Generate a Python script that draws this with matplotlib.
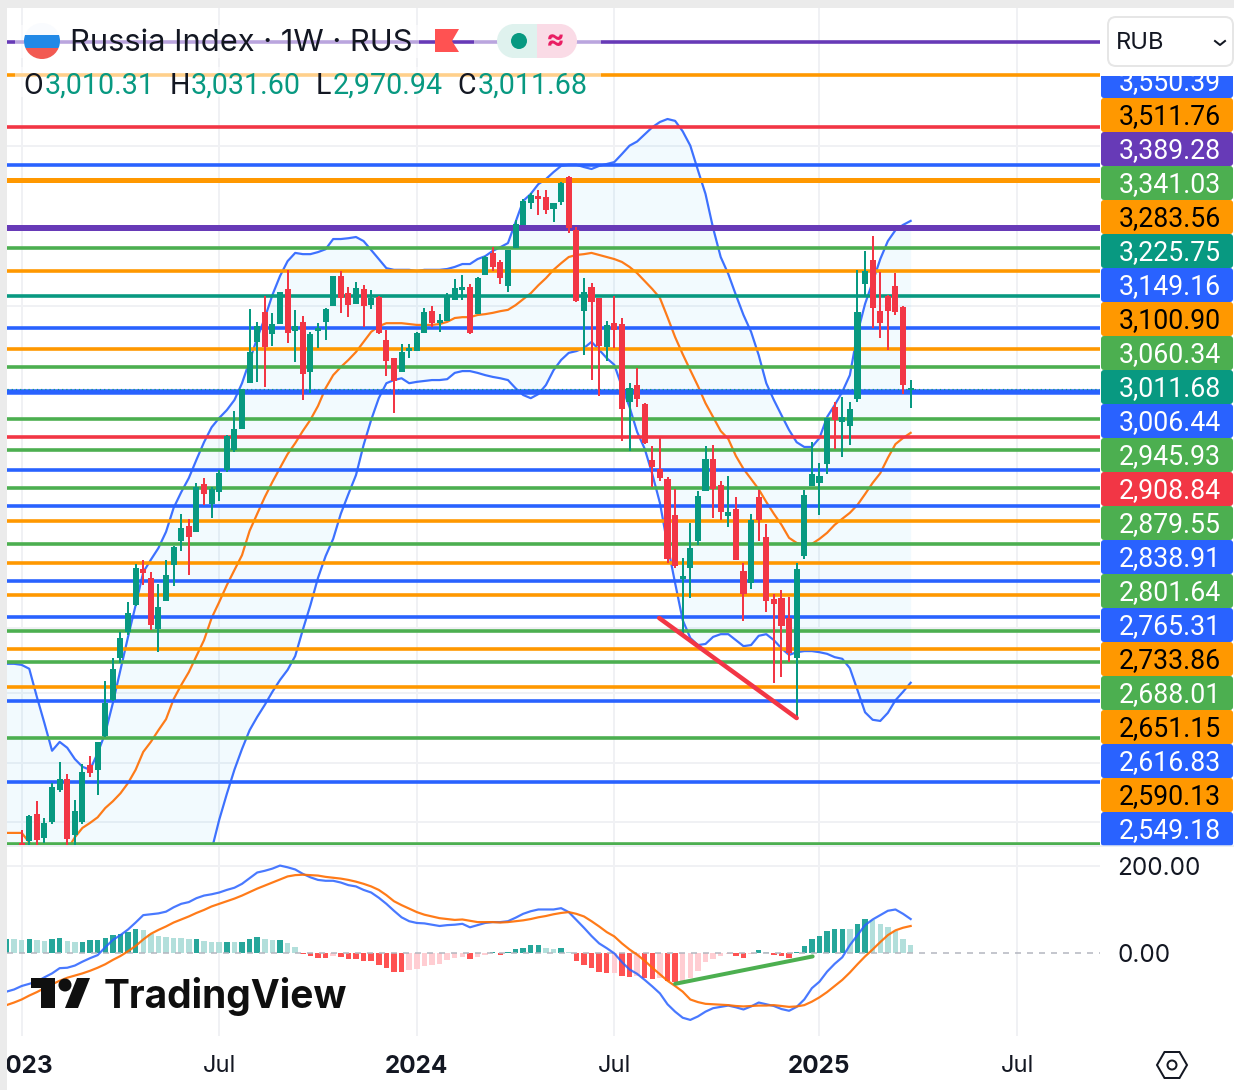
import numpy as np
import matplotlib
matplotlib.use("Agg")
import matplotlib.pyplot as plt
from matplotlib.patches import Rectangle, FancyBboxPatch, Circle, Polygon

plt.rcParams['font.family'] = ['Inter', 'DejaVu Sans']

# weekly candles, first one is the week of 2023-01-02
opens = [2160, 2163, 2206, 2168, 2193, 2245, 2263, 2173, 2193, 2287, 2279, 2336, 2398, 2473, 2521, 2571, 2640, 2623, 2526, 2579,
         2648, 2695, 2725, 2713, 2810, 2769, 2793, 2839, 2880, 2925, 3025, 3118, 3187, 3136, 3159, 3241, 3143, 3164, 3050, 3143,
         3164, 3201, 3272, 3231, 3206, 3241, 3203, 3222, 3122, 3081, 3050, 3097, 3097, 3138, 3189, 3161, 3166, 3215, 3239, 3246,
         3182, 3275, 3328, 3306, 3248, 3340, 3397, 3452, 3470, 3467, 3437, 3454, 3518, 3384, 3189, 3246, 3220, 3106, 3161, 3159,
         2984, 3021, 2979, 2859, 2841, 2820, 2747, 2621, 2642, 2695, 2795, 2862, 2807, 2745, 2759, 2636, 2613, 2783, 2703, 2583,
         2585, 2547, 2473, 2665, 2805, 2812, 2851, 2973, 2940, 2932, 2990, 3253, 3311, 3189, 3224, 3248, 3199, 3010.31]
highs = [2180, 2205, 2227, 2200, 2257, 2292, 2272, 2229, 2289, 2302, 2324, 2432, 2473, 2521, 2577, 2650, 2658, 2634, 2611, 2658,
         2685, 2748, 2739, 2812, 2822, 2804, 2839, 2912, 2964, 3010, 3194, 3164, 3224, 3185, 3234, 3287, 3192, 3178, 3141, 3161,
         3196, 3270, 3284, 3246, 3258, 3250, 3239, 3224, 3145, 3081, 3113, 3113, 3141, 3196, 3201, 3182, 3231, 3265, 3275, 3253,
         3270, 3320, 3342, 3311, 3333, 3409, 3462, 3477, 3485, 3485, 3452, 3505, 3521, 3392, 3267, 3255, 3220, 3166, 3224, 3173,
         3025, 3059, 2981, 2889, 2906, 2824, 2799, 2662, 2730, 2795, 2889, 2891, 2816, 2826, 2783, 2652, 2749, 2797, 2729, 2592,
         2600, 2586, 2652, 2797, 2897, 2853, 2949, 2984, 2995, 2984, 3287, 3333, 3369, 3282, 3227, 3280, 3201, 3031.60]
lows = [2133, 2149, 2154, 2160, 2190, 2242, 2154, 2157, 2190, 2267, 2237, 2334, 2397, 2464, 2515, 2569, 2609, 2525, 2484, 2579,
        2607, 2675, 2628, 2713, 2767, 2741, 2775, 2834, 2876, 2925, 3025, 3028, 3017, 3109, 3159, 3115, 3072, 2988, 3003, 3104,
        3122, 3201, 3185, 3175, 3206, 3152, 3194, 3136, 3041, 2960, 3050, 3081, 3097, 3138, 3152, 3141, 3166, 3215, 3215, 3136,
        3182, 3275, 3284, 3253, 3234, 3340, 3397, 3437, 3422, 3424, 3404, 3447, 3377, 3210, 3088, 3032, 2997, 3075, 3104, 2900,
        2878, 2973, 2893, 2803, 2816, 2652, 2642, 2515, 2585, 2687, 2795, 2741, 2737, 2723, 2660, 2541, 2602, 2695, 2558, 2428,
        2439, 2466, 2367, 2660, 2805, 2747, 2830, 2883, 2866, 2891, 2984, 3222, 3150, 3127, 3100, 3180, 3001, 2970.94]
closes = [2146, 2201, 2166, 2190, 2249, 2262, 2168, 2209, 2274, 2275, 2324, 2391, 2452, 2508, 2554, 2640, 2634, 2536, 2566, 2627,
          2681, 2719, 2705, 2802, 2791, 2797, 2830, 2908, 2923, 3010, 3092, 3152, 3109, 3157, 3231, 3141, 3152, 3048, 3134, 3148,
          3192, 3270, 3222, 3206, 3241, 3203, 3217, 3141, 3077, 3032, 3092, 3102, 3136, 3185, 3164, 3166, 3224, 3241, 3243, 3141,
          3265, 3315, 3296, 3270, 3333, 3397, 3454, 3470, 3465, 3437, 3449, 3500, 3392, 3215, 3231, 3213, 3111, 3154, 3148, 2971,
          3012, 2992, 2897, 2847, 2824, 2662, 2648, 2625, 2679, 2783, 2859, 2801, 2755, 2751, 2660, 2594, 2735, 2739, 2581, 2575,
          2534, 2484, 2638, 2785, 2828, 2824, 2947, 2947, 2949, 2966, 3185, 3282, 3199, 3164, 3192, 3189, 3023, 3011.68]

# bollinger bands and macd start two weeks before the first candle
bb_upper = [2463, 2463, 2461, 2454, 2404, 2358, 2311, 2326, 2316, 2297, 2284, 2279, 2307, 2341, 2393, 2452, 2512, 2571, 2634, 2658,
            2681, 2713, 2761, 2793, 2822, 2860, 2897, 2929, 2949, 2966, 2988, 3025, 3075, 3127, 3173, 3227, 3272, 3308, 3328, 3325,
            3325, 3330, 3337, 3362, 3362, 3364, 3367, 3357, 3335, 3313, 3291, 3287, 3287, 3287, 3284, 3287, 3287, 3287, 3289, 3294,
            3301, 3301, 3313, 3320, 3333, 3342, 3352, 3404, 3457, 3475, 3500, 3513, 3531, 3547, 3550, 3550, 3544, 3539, 3547, 3552,
            3557, 3578, 3600, 3611, 3630, 3649, 3663, 3671, 3666, 3638, 3600, 3536, 3475, 3389, 3318, 3277, 3227, 3180, 3141, 3088,
            3025, 2988, 2955, 2923, 2897, 2887, 2887, 2906, 2951, 2977, 3006, 3043, 3138, 3206, 3258, 3313, 3357, 3384, 3397, 3407]
# the lower band is below the visible range before mid 2023
bb_lower = [np.nan] * 27 + [
    2149, 2197, 2239, 2279, 2314, 2346, 2369, 2390, 2413, 2434, 2452, 2477, 2525, 2571, 2623, 2665, 2699, 2749, 2789, 2828,
    2891, 2945, 2992, 3025, 3032, 3036, 3025, 3028, 3030, 3032, 3032, 3034, 3048, 3052, 3052, 3048, 3043, 3039, 3036, 3032,
    3014, 2999, 2992, 3001, 3021, 3054, 3077, 3093, 3097, 3104, 3118, 3100, 3081, 3066, 3017, 2973, 2919, 2883, 2830, 2771,
    2687, 2613, 2543, 2510, 2497, 2499, 2512, 2517, 2517, 2506, 2495, 2497, 2514, 2517, 2506, 2491, 2479, 2484, 2486, 2486,
    2484, 2481, 2475, 2472, 2455, 2416, 2377, 2364, 2362, 2376, 2398, 2413, 2429]
bb_basis = [2176, 2176, 2176, 2161, 2149, 2141, 2136, 2141, 2149, 2169, 2184, 2192, 2201, 2216, 2227, 2240, 2257, 2279, 2309, 2326,
            2346, 2365, 2400, 2425, 2448, 2477, 2506, 2547, 2577, 2609, 2638, 2667, 2715, 2749, 2783, 2814, 2843, 2872, 2895, 2921,
            2945, 2975, 3014, 3043, 3061, 3077, 3095, 3118, 3141, 3154, 3161, 3161, 3161, 3159, 3157, 3157, 3157, 3159, 3164, 3173,
            3175, 3175, 3180, 3182, 3185, 3189, 3192, 3203, 3217, 3231, 3250, 3267, 3287, 3303, 3318, 3323, 3325, 3328, 3323, 3318,
            3313, 3306, 3294, 3279, 3260, 3241, 3220, 3175, 3129, 3090, 3054, 3019, 2981, 2951, 2921, 2904, 2868, 2841, 2820, 2799,
            2773, 2749, 2727, 2701, 2691, 2687, 2689, 2699, 2711, 2727, 2739, 2751, 2767, 2789, 2812, 2832, 2864, 2893, 2906, 2917]

macd_line = [-89, -84, -76, -71, -66, -56, -47, -35, -34, -29, -20, -12, -5, 13, 30, 41, 54, 70, 87, 89,
             91, 95, 105, 113, 117, 126, 132, 135, 139, 145, 150, 159, 172, 185, 189, 194, 201, 197, 192, 182,
             174, 168, 166, 166, 162, 156, 153, 145, 139, 127, 113, 97, 82, 73, 69, 68, 65, 62, 64, 65,
             67, 59, 64, 69, 71, 71, 73, 81, 90, 96, 100, 100, 100, 103, 94, 76, 58, 39, 22, 11,
             -1, -21, -38, -48, -62, -77, -93, -118, -135, -149, -154, -146, -135, -127, -124, -121, -125, -130, -123, -114,
             -118, -122, -129, -133, -124, -107, -81, -66, -43, -25, -10, 18, 41, 64, 77, 87, 97, 100, 90, 78]
macd_signal = [-120, -114, -107, -98, -90, -81, -72, -64, -57, -52, -47, -41, -34, -26, -16, -7, 4, 16, 31, 44,
               53, 61, 70, 77, 84, 92, 99, 107, 113, 119, 125, 132, 140, 148, 155, 162, 169, 176, 179, 180,
               179, 178, 175, 173, 171, 168, 164, 159, 153, 145, 133, 119, 110, 102, 94, 88, 84, 80, 78, 76,
               77, 74, 71, 71, 71, 70, 71, 73, 75, 78, 82, 85, 89, 92, 94, 90, 84, 73, 61, 48,
               38, 22, 8, -4, -18, -34, -49, -64, -76, -89, -107, -113, -117, -118, -119, -120, -122, -123, -122, -121,
               -121, -120, -122, -124, -123, -120, -112, -102, -90, -76, -62, -45, -26, -8, 8, 25, 41, 52, 58, 62]
macd_hist = [33, 32, 29, 31, 29, 28, 31, 34, 27, 25, 26, 29, 30, 35, 41, 44, 48, 54, 53, 44,
             38, 36, 35, 34, 31, 32, 28, 26, 25, 26, 25, 26, 31, 36, 31, 29, 30, 22, 13, -2,
             -8, -11, -12, -8, -9, -13, -14, -18, -19, -28, -35, -43, -44, -40, -36, -30, -27, -25, -17, -12,
             -10, -15, -10, -4, 3, -5, 3, 8, 12, 18, 19, 12, 10, 11, 2, -18, -27, -34, -43, -46,
             -45, -54, -55, -54, -58, -59, -57, -64, -66, -64, -58, -41, -21, -13, -8, -3, -6, -11, -2, 6,
             2, -5, -6, -11, 3, 17, 31, 38, 50, 54, 56, 55, 66, 77, 76, 66, 59, 51, 33, 19]

# horizontal levels on the price pane, top to bottom
level_prices = [3884, 3791, 3650, 3550.39, 3511.76, 3389.28, 3341.03, 3283.56, 3225.75, 3149.16, 3100.90, 3060.34, 3006.44,
                2945.93, 2908.84, 2879.55, 2838.91, 2801.64, 2765.31, 2733.86, 2688.01, 2651.15, 2616.83, 2590.13, 2549.18,
                2523, 2490, 2466, 2421, 2397, 2333, 2259, 2159]
level_colors = ['purple', 'orange', 'red', 'blue', 'orange', 'purple', 'green', 'orange', 'teal', 'blue', 'orange', 'green', 'blue',
                'green', 'red', 'green', 'blue', 'green', 'blue', 'orange', 'green', 'orange', 'blue', 'orange', 'blue',
                'green', 'orange', 'green', 'orange', 'blue', 'green', 'blue', 'green']
heavy_levels = {3511.76: 5.0, 3389.28: 6.0, 3006.44: 5.5}

# price scale labels, stacked so they do not overlap
label_prices = ['3,550.39', '3,511.76', '3,389.28', '3,341.03', '3,283.56', '3,225.75', '3,149.16', '3,100.90', '3,060.34',
                '3,011.68', '3,006.44', '2,945.93', '2,908.84', '2,879.55', '2,838.91', '2,801.64', '2,765.31', '2,733.86',
                '2,688.01', '2,651.15', '2,616.83', '2,590.13', '2,549.18']
label_colors = ['blue', 'orange', 'purple', 'green', 'orange', 'teal', 'blue', 'orange', 'green',
                'teal', 'blue', 'green', 'red', 'green', 'blue', 'green', 'blue', 'orange',
                'green', 'orange', 'blue', 'orange', 'blue']

grid_prices = [3600, 3200, 2528, 2411, 2290, 2193]
tick_weeks = [0, 26, 52, 78, 105, 131]
tick_names = ['2023', 'Jul', '2024', 'Jul', '2025', 'Jul']

PALETTE = {'blue': '#2962ff', 'orange': '#ff9800', 'purple': '#673ab7', 'green': '#4caf50',
           'red': '#f23645', 'teal': '#089981'}
UP = '#089981'
DOWN = '#f23645'
TEXT = '#131722'
GRID = '#f0f1f4'
BB_BLUE = '#2962ff'
LINE_ORANGE = '#ff6d00'
# Roboto has tabular digits, like the price scale in the reference
NUM_FONT = ['Roboto', 'DejaVu Sans']

W, H = 1234, 1090
DPI = 100


def px(n):
    # line widths are easier to think about in pixels
    return n * 72 / DPI


def pane_rect(left, top, right, bottom):
    return [left / W, 1 - bottom / H, (right - left) / W, (bottom - top) / H]


def draw_price(ax):
    weeks = np.arange(len(opens))
    band_weeks = np.arange(-2, len(opens))
    o, h, l, c = map(np.array, (opens, highs, lows, closes))
    lower = np.array(bb_lower, dtype=float)
    ymin, ymax = 2156.8, 3982.0

    ax.set_yscale('log')
    ax.set_xlim(-1.93, 141.92)
    ax.set_ylim(ymin, ymax)
    ax.set_xticks([])
    ax.set_yticks([])
    ax.minorticks_off()
    for s in ax.spines.values():
        s.set_visible(False)

    for t in tick_weeks:
        ax.axvline(t, color=GRID, lw=px(2), zorder=1)
    for g in grid_prices:
        ax.axhline(g, color=GRID, lw=px(2), zorder=1)

    ax.fill_between(band_weeks, bb_upper, np.where(np.isnan(lower), ymin, lower),
                    color='#03a9f4', alpha=0.05, lw=0, zorder=2)
    ax.plot(band_weeks, bb_upper, color=BB_BLUE, lw=px(2.2), alpha=0.9, zorder=3)
    ax.plot(band_weeks, lower, color=BB_BLUE, lw=px(2.2), alpha=0.9, zorder=3)
    ax.plot(band_weeks, bb_basis, color=LINE_ORANGE, lw=px(2.2), alpha=0.9, zorder=3)

    for price, name in zip(level_prices, level_colors):
        ax.axhline(price, color=PALETTE[name], lw=px(heavy_levels.get(price, 3.6)), zorder=4)
    ax.axhline(closes[-1], color=UP, lw=px(1.2), ls=(0, (1, 2.5)), zorder=5)

    colors = [UP if b >= a else DOWN for a, b in zip(o, c)]
    ax.vlines(weeks, l, h, colors=colors, lw=px(2), zorder=6)
    ax.bar(weeks, np.abs(c - o), bottom=np.minimum(o, c), width=0.8, color=colors, lw=0, zorder=7)
    # minimum body height for the doji weeks
    ax.hlines(c, weeks - 0.4, weeks + 0.4, colors=colors, lw=px(2), zorder=7)

    ax.plot([83.9, 102], [2547, 2367], color=PALETTE['red'], lw=px(4.5), zorder=8, solid_capstyle='round')


def draw_macd(ax):
    band_weeks = np.arange(-2, len(opens))
    ax.set_xlim(-1.93, 141.92)
    ax.set_ylim(-191, 246)
    for s in ax.spines.values():
        s.set_visible(False)

    for t in tick_weeks:
        ax.axvline(t, color=GRID, lw=px(2), zorder=1)
    ax.axhline(200, color=GRID, lw=px(2), zorder=1)

    bar_colors = []
    prev = macd_hist[0]
    for v in macd_hist:
        if v >= 0:
            bar_colors.append('#26a69a' if v >= prev else '#b2dfdb')
        else:
            bar_colors.append('#ff5252' if v <= prev else '#ffcdd2')
        prev = v
    ax.bar(band_weeks, macd_hist, width=0.72, color=bar_colors, lw=0, zorder=2)
    ax.axhline(0, color='#b2b5be', lw=px(1.5), ls=(0, (4, 4)), zorder=3)

    ax.plot(band_weeks, macd_line, color=BB_BLUE, lw=px(2.2), alpha=0.85, zorder=4)
    ax.plot(band_weeks, macd_signal, color=LINE_ORANGE, lw=px(2.2), alpha=0.9, zorder=4)
    ax.plot([86, 104.1], [-71, -8], color=PALETTE['green'], lw=px(4), zorder=5, solid_capstyle='round')

    ax.set_xticks(tick_weeks)
    ax.set_xticklabels(tick_names, fontsize=17, color=TEXT)
    for lab in ax.get_xticklabels():
        if lab.get_text().isdigit():
            lab.set_fontweight('bold')
            lab.set_fontsize(17.5)
    ax.tick_params(axis='x', length=0, pad=14)
    ax.yaxis.tick_right()
    ax.set_yticks([0, 200])
    ax.set_yticklabels(['0.00', '200.00'], fontsize=17.5, color=TEXT)
    ax.tick_params(axis='y', length=0, pad=12.5)


def draw_furniture(fig):
    ov = fig.add_axes([0, 0, 1, 1], zorder=10)
    ov.set_xlim(0, W)
    ov.set_ylim(H, 0)
    ov.axis('off')
    ov.patch.set_alpha(0)

    # window background strips
    ov.add_patch(Rectangle((0, 0), W, 8, color='#ebebeb', lw=0))
    ov.add_patch(Rectangle((0, 0), 7, H, color='#ebebeb', lw=0))

    # legend backing, the levels show through it
    for x0, x1, y0, y1 in [(15, 419, 25, 58), (474, 601, 25, 58), (15, 601, 67, 97)]:
        ov.add_patch(Rectangle((x0, y0), x1 - x0, y1 - y0, color='white', alpha=0.55, lw=0))

    ov.add_patch(Circle((42, 41), 18, color='#f9fbfe', lw=0))
    clip = Circle((42, 41), 18, transform=ov.transData)
    ov.add_patch(Rectangle((20, 35), 44, 13, color='#2289e6', lw=0, clip_path=clip))
    ov.add_patch(Rectangle((20, 48), 44, 12, color='#f25a52', lw=0, clip_path=clip))
    ov.text(70, 43, 'Russia Index · 1W · RUS', fontsize=22.2, color=TEXT, va='center', ha='left')
    ov.add_patch(Polygon([(435, 29), (459, 29), (452, 41), (459, 52), (435, 52)], color='#ff5252', lw=0))

    ov.add_patch(Circle((514, 41), 17, color='#dff2ee', lw=0))
    ov.add_patch(Rectangle((514, 24), 23, 34, color='#dff2ee', lw=0))
    ov.add_patch(Circle((560, 41), 17, color='#fadbe6', lw=0))
    ov.add_patch(Rectangle((537, 24), 23, 34, color='#fadbe6', lw=0))
    ov.add_patch(Circle((519, 41), 8, color=UP, lw=0))
    ov.text(555, 41, '≈', fontsize=20, color='#e91e63', ha='center', va='center', fontweight='bold')

    row = [(23, 'O', TEXT), (45, '3,010.31', UP), (170, 'H', TEXT), (191, '3,031.60', UP),
           (316, 'L', TEXT), (333, '2,970.94', UP), (457, 'C', TEXT), (478, '3,011.68', UP)]
    for x, s, col in row:
        ov.text(x, 85.5, s, fontsize=20.6, color=col, ha='left', va='center', family=NUM_FONT)

    # currency selector
    ov.add_patch(FancyBboxPatch((1108, 17), 125, 49, boxstyle='round,pad=0,rounding_size=8',
                                fc='white', ec='#e6e6e6', lw=px(2)))
    ov.text(1116, 43, 'RUB', fontsize=17, color=TEXT, ha='left', va='center')
    ov.plot([1215, 1220, 1225], [41, 45, 41], color=TEXT, lw=px(2))

    # price scale labels
    clip_box = Rectangle((1101, 76), 133, 800, transform=ov.transData)
    for i, (s, name) in enumerate(zip(label_prices, label_colors)):
        yc = 81 + i * 34
        box = FancyBboxPatch((1101, yc - 17), 132, 34, boxstyle='round,pad=0,rounding_size=3',
                             fc=PALETTE[name], ec='none', lw=0)
        ov.add_patch(box)
        box.set_clip_path(clip_box)
        col = 'black' if name == 'orange' else 'white'
        t = ov.text(1170, yc + 1.5, s, fontsize=19.2, color=col, ha='center', va='center', family=NUM_FONT)
        t.set_clip_path(clip_box)
    ov.plot([7, 1234], [846, 846], color='#e6eaf0', lw=px(1.5))

    # logo
    ov.add_patch(Polygon([(31, 978), (55, 978), (55, 1008), (41, 1008), (41, 988), (31, 988)], color='#0f0f0f', lw=0))
    ov.add_patch(Circle((65, 985), 6.5, color='#0f0f0f', lw=0))
    ov.add_patch(Polygon([(77, 978), (90, 978), (78, 1008), (65, 1008)], color='#0f0f0f', lw=0))
    ov.text(104, 997, 'TradingView', fontsize=28, fontweight='bold', color='#0f0f0f', ha='left', va='center')

    # settings hexagon
    ang = np.deg2rad(np.arange(0, 360, 60))
    ov.add_patch(Polygon(np.column_stack((1172 + 15 * np.cos(ang), 1065 + 15 * np.sin(ang))),
                         fc='none', ec=TEXT, lw=px(2)))
    ov.add_patch(Circle((1172, 1065), 4.5, fc='none', ec=TEXT, lw=px(2)))


def main():
    fig = plt.figure(figsize=(W / DPI, H / DPI), dpi=DPI, facecolor='white')
    price_ax = fig.add_axes(pane_rect(7, 8, 1100, 845))
    macd_ax = fig.add_axes(pane_rect(7, 846, 1100, 1036))
    draw_price(price_ax)
    draw_macd(macd_ax)
    draw_furniture(fig)
    fig.savefig('out.png', dpi=DPI)
    plt.close(fig)


if __name__ == '__main__':
    main()
